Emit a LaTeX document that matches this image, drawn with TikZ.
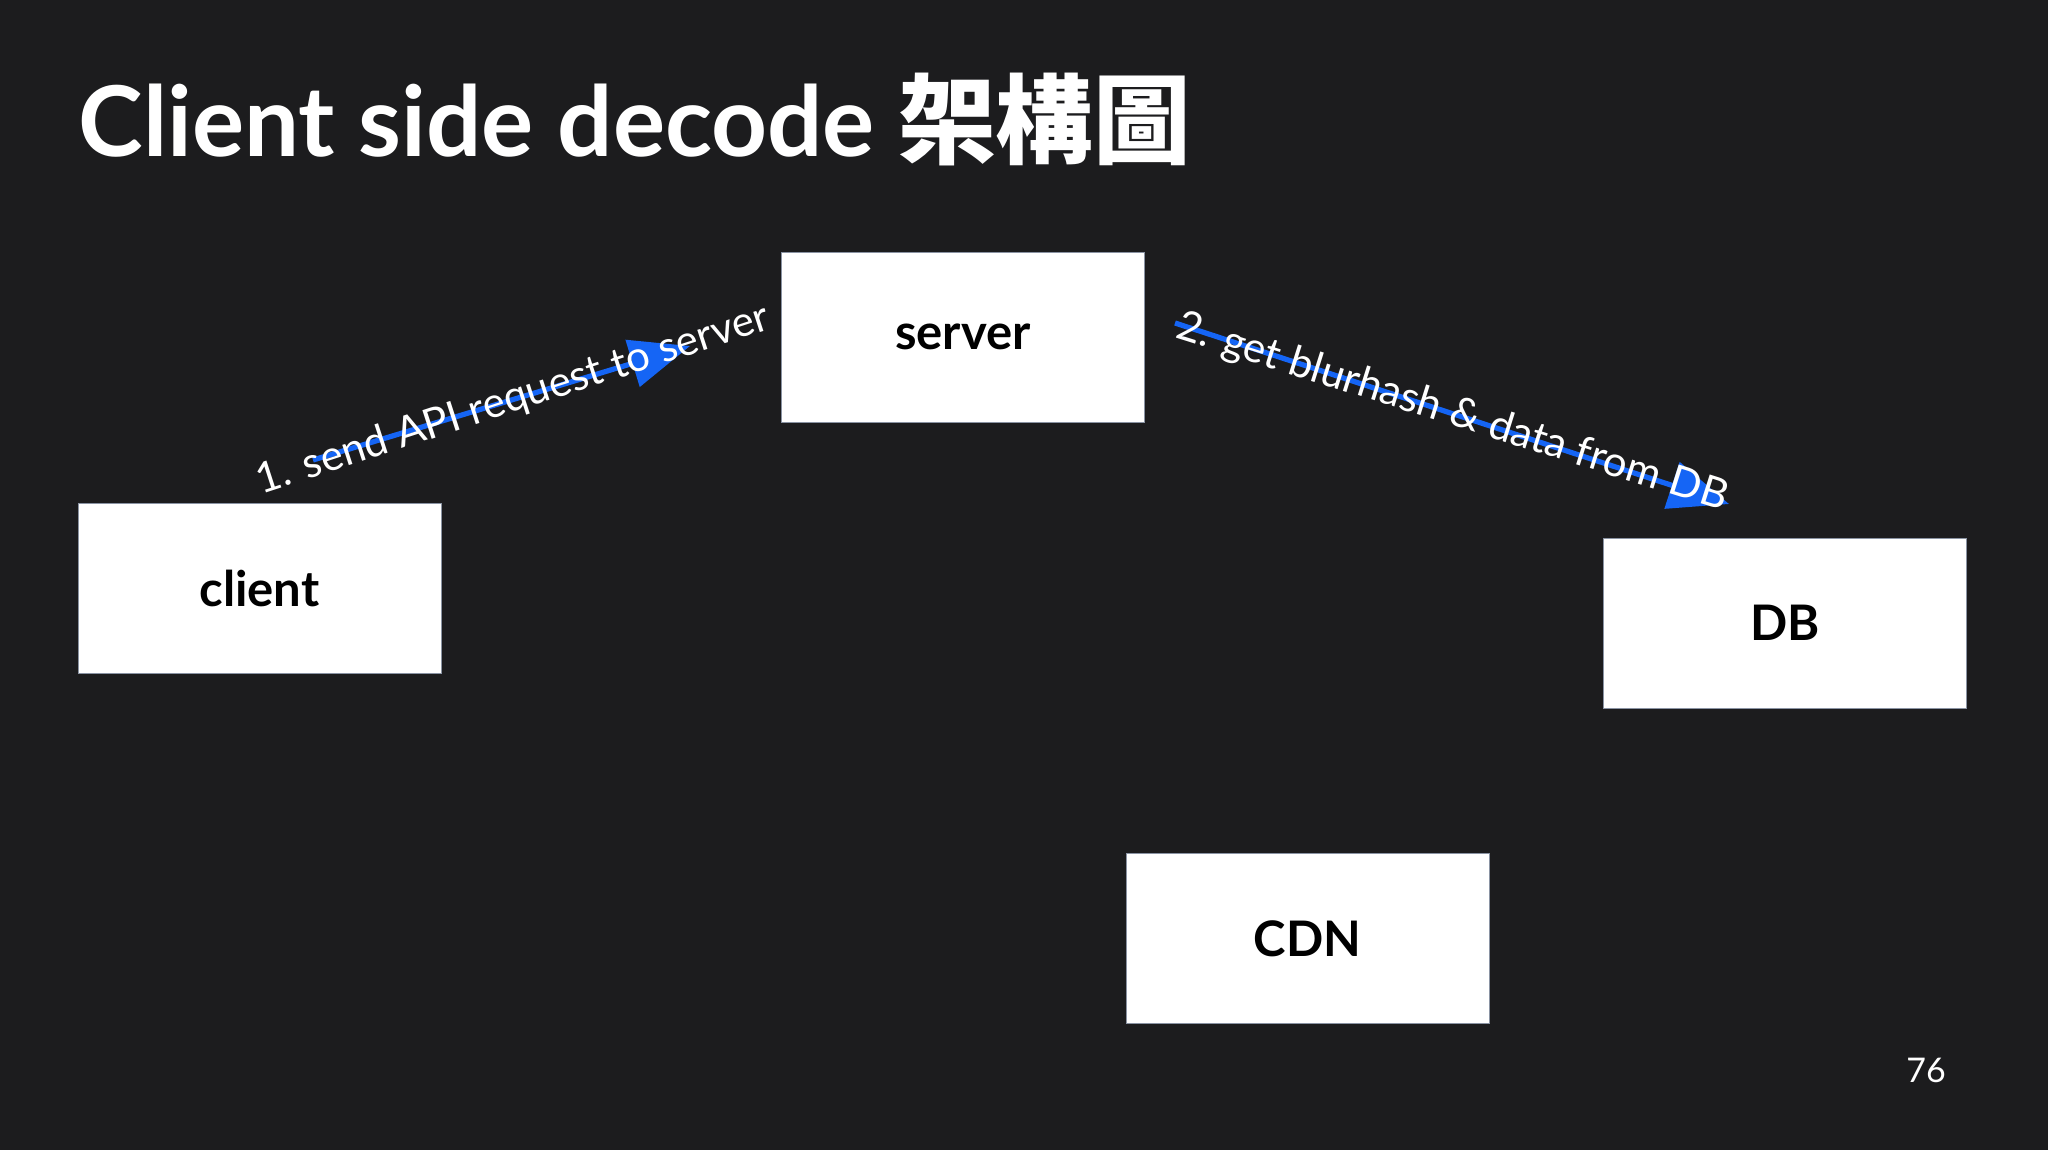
\documentclass[tikz,border=0pt]{standalone}
\usepackage{fontspec}
\setmainfont{Lato}
\newfontfamily\cjk{Noto Sans CJK TC}
\usetikzlibrary{arrows.meta}
\definecolor{slidebg}{HTML}{1C1C1E}
\definecolor{flowblue}{HTML}{1565F5}
\definecolor{boxline}{HTML}{8A93A3}

\begin{document}
\begin{tikzpicture}[x=0.5pt,y=-0.5pt,
  box/.style={draw=boxline,line width=0.5pt,fill=white,minimum width=181.5pt,minimum height=85pt,inner sep=0pt,text=black,font=\fontsize{24.5}{28}\selectfont\bfseries},
  flow/.style={draw=flowblue,line width=2.6pt,-{Triangle[length=30pt,width=24pt]}},
  flowlabel/.style={text=white,inner sep=0pt,font=\fontsize{21}{25}\selectfont}]
  \fill[slidebg] (0,0) rectangle (2048,1150);

  % title
  \node[anchor=base west,inner sep=0pt,text=white,font=\fontsize{48.8}{56}\selectfont\bfseries] (title) at (78,157) {Client side decode {\cjk 架構圖}};

  % boxes
  \node[box] (server) at (963,337) {server};
  \node[box] (client) at (259.5,588) {client};
  \node[box] (db) at (1785,623) {DB};
  \node[box] (cdn) at (1307.5,938.5) {CDN};

  % 1. client -> server
  \coordinate (req from) at (313,460);
  \coordinate (req to) at (690,346);
  \draw[flow] (req from) -- (req to);
  \node[flowlabel,rotate=18] (req label) at (513,400) {1. send API request to server};

  % 2. server -> DB
  \coordinate (query from) at (1175,323);
  \coordinate (query to) at (1729,504);
  \draw[flow] (query from) -- (query to);
  \node[flowlabel,rotate=-17.5] (query label) at (1452,413) {2. get blurhash \& data from DB};

  \node[text=white,inner sep=0pt,font=\fontsize{17}{20}\selectfont] (page) at (1926,1070) {76};
\end{tikzpicture}
\end{document}
